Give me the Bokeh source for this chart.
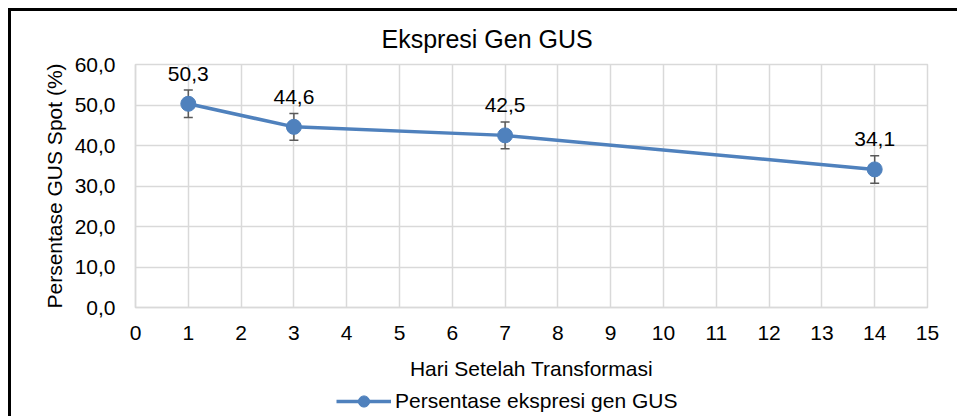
from bokeh.plotting import figure
from bokeh.layouts import column
from bokeh.models import (ColumnDataSource, Range1d, SingleIntervalTicker, CustomJSTickFormatter,
                          Whisker, TeeHead, Title, Legend, LegendItem)
from bokeh.embed import file_html
from bokeh.resources import INLINE

# ---- data ----
days = [1, 3, 7, 14]
values = [50.3, 44.6, 42.5, 34.1]
errors = [3.4, 3.3, 3.3, 3.4]
series_name = "Persentase ekspresi gen GUS"
chart_title = "Ekspresi Gen GUS"
x_title = "Hari Setelah Transformasi"
y_title = "Persentase GUS Spot (%)"

labels = [f"{v:.1f}".replace(".", ",") for v in values]
src = ColumnDataSource(dict(
    x=days, y=values, lbl=labels,
    upper=[v + e for v, e in zip(values, errors)],
    lower=[v - e for v, e in zip(values, errors)],
))

FONT = "Liberation Sans"
BLUE = "#4F81BD"
GRID = "#d9d9d9"

p = figure(width=946, height=375, output_backend="svg", toolbar_location=None,
           x_range=Range1d(0, 15), y_range=Range1d(0, 60),
           min_border_left=124, min_border_right=30, min_border_top=52, min_border_bottom=79)
p.background_fill_color = "white"
p.border_fill_color = "white"
p.outline_line_color = GRID
p.outline_line_width = 1.5

p.title = Title(text=chart_title, align="left", offset=246, standoff=23,
                text_font=FONT, text_font_size="25px", text_font_style="normal",
                text_color="black")

# axes
p.xaxis.ticker = SingleIntervalTicker(interval=1, num_minor_ticks=0)
p.yaxis.ticker = SingleIntervalTicker(interval=10, num_minor_ticks=0)
p.yaxis.formatter = CustomJSTickFormatter(code="return tick.toFixed(1).replace('.', ',');")
for ax in (p.xaxis, p.yaxis):
    ax.axis_line_color = GRID
    ax.axis_line_width = 1.5
    ax.major_tick_line_color = None
    ax.minor_tick_line_color = None
    ax.major_tick_out = 0
    ax.major_tick_in = 0
    ax.major_label_text_font = FONT
    ax.major_label_text_font_size = "21px"
    ax.major_label_text_color = "black"
    ax.axis_label_text_font = FONT
    ax.axis_label_text_font_size = "21px"
    ax.axis_label_text_font_style = "normal"
    ax.axis_label_text_color = "black"
p.xaxis.major_label_standoff = 18
p.yaxis.major_label_standoff = 20
p.xaxis.axis_label = x_title
p.xaxis.axis_label_standoff = 14
p.yaxis.axis_label = y_title
p.yaxis.axis_label_standoff = 6

p.xgrid.grid_line_color = GRID
p.ygrid.grid_line_color = GRID
p.xgrid.grid_line_width = 1.5
p.ygrid.grid_line_width = 1.5

# series
ln = p.line("x", "y", source=src, line_color=BLUE, line_width=3.5)
sc = p.scatter("x", "y", source=src, size=15, fill_color=BLUE, line_color=BLUE)
wh = Whisker(base="x", upper="upper", lower="lower", source=src,
             line_color="#595959", line_width=1.5,
             upper_head=TeeHead(size=9, line_color="#595959", line_width=1.5),
             lower_head=TeeHead(size=9, line_color="#595959", line_width=1.5))
p.add_layout(wh)
p.text("x", "y", text="lbl", source=src, x_offset=0, y_offset=-30,
       text_align="center", text_baseline="alphabetic",
       text_font={"value": FONT}, text_font_size="21px", text_color="black")

# legend strip (separate small figure under the chart; its ranges keep the
# key renderers out of view so only the legend is visible)
q = figure(width=946, height=30, output_backend="svg", toolbar_location=None,
           x_range=Range1d(100, 200), y_range=Range1d(100, 200), min_border=0)
q.axis.visible = False
q.grid.visible = False
q.outline_line_color = None
q.background_fill_color = "white"
q.border_fill_color = "white"
lk = q.line("x", "y", source=src, line_color=BLUE, line_width=3.5)
sk = q.scatter("x", "y", source=src, size=15, fill_color=BLUE, line_color=BLUE)
leg = Legend(items=[LegendItem(label=series_name, renderers=[lk, sk])],
             location="center_left", glyph_width=55, glyph_height=28, label_height=28,
             label_standoff=4, padding=0, margin=201, spacing=0,
             border_line_color=None, background_fill_alpha=0,
             label_text_font=FONT, label_text_font_size="21px", label_text_color="black")
q.add_layout(leg)

layout = column(p, q, spacing=0)
layout.styles = {"margin-left": "8px", "margin-top": "8px",
                 "border-left": "3px solid black", "border-top": "3px solid black"}

open("out.html", "w").write(file_html(layout, INLINE))
